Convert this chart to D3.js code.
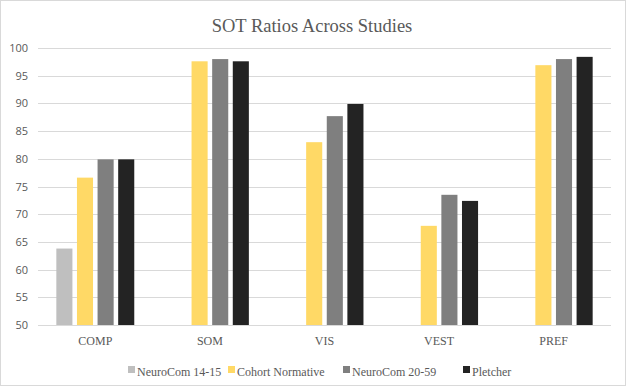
<!DOCTYPE html>
<html>
<head>
<meta charset="utf-8">
<script src="https://cdn.jsdelivr.net/npm/d3@7"></script>
<style>
  body { margin: 0; background: #fff; }
  svg { display: block; }
</style>
</head>
<body>
<div id="chart"></div>
<script>
const categories = ['COMP', 'SOM', 'VIS', 'VEST', 'PREF'];
const seriesNames = ['NeuroCom 14-15', 'Cohort Normative', 'NeuroCom 20-59', 'Pletcher'];
const neuroCom1415 = [63.8, null, null, null, null];
const cohortNormative = [76.6, 97.6, 83.0, 67.9, 96.9];
const neuroCom2059 = [79.9, 98.0, 87.7, 73.5, 98.0];
const pletcher = [79.9, 97.6, 89.9, 72.4, 98.4];
const yTicks = [50, 55, 60, 65, 70, 75, 80, 85, 90, 95, 100];
const colors = ['#bfbfbf', '#ffd966', '#7f7f7f', '#232323'];

const seriesValues = [neuroCom1415, cohortNormative, neuroCom2059, pletcher];

const width = 626, height = 386;
const margin = { top: 48, right: 15, bottom: 61, left: 38 };

const svg = d3.select('#chart').append('svg')
  .attr('width', width)
  .attr('height', height);

// outer frame
svg.append('rect')
  .attr('x', 0.5).attr('y', 0.5)
  .attr('width', width - 1).attr('height', height - 1)
  .attr('fill', '#fff')
  .attr('stroke', '#d9d9d9');

svg.append('text')
  .attr('x', 312).attr('y', 32)
  .attr('text-anchor', 'middle')
  .attr('font-family', 'Liberation Serif, Times New Roman, serif')
  .attr('font-size', '18.5px')
  .attr('fill', '#595959')
  .text('SOT Ratios Across Studies');

const x0 = d3.scaleBand()
  .domain(categories)
  .range([margin.left, width - margin.right])
  .paddingInner(0.32)
  .paddingOuter(0.16);

const x1 = d3.scaleBand()
  .domain(seriesNames)
  .range([0, x0.bandwidth()])
  .paddingInner(0.22);

const y = d3.scaleLinear()
  .domain([50, 100])
  .range([height - margin.bottom, margin.top]);

// gridlines
svg.append('g')
  .selectAll('line')
  .data(yTicks)
  .join('line')
  .attr('x1', margin.left)
  .attr('x2', width - margin.right)
  .attr('y1', d => Math.round(y(d)) + 0.5)
  .attr('y2', d => Math.round(y(d)) + 0.5)
  .attr('stroke', '#d9d9d9')
  .attr('stroke-width', 1);

// y labels
const yAxis = svg.append('g')
  .attr('transform', `translate(${margin.left - 6},0)`)
  .call(d3.axisLeft(y).tickValues(yTicks).tickSize(0).tickPadding(4));
yAxis.select('.domain').remove();
yAxis.selectAll('text')
  .attr('font-family', 'Open Sans, Liberation Sans, sans-serif')
  .attr('font-size', '11px')
  .attr('fill', '#595959');

// bars
const groups = svg.append('g')
  .selectAll('g')
  .data(categories)
  .join('g')
  .attr('transform', d => `translate(${x0(d)},0)`);

groups.selectAll('rect')
  .data((d, i) => seriesNames.map((s, j) => ({ s, j, v: seriesValues[j][i] })).filter(e => e.v != null))
  .join('rect')
  .attr('x', d => x1(d.s))
  .attr('width', x1.bandwidth())
  .attr('y', d => y(d.v))
  .attr('height', d => y(50) - y(d.v))
  .attr('fill', d => colors[d.j]);

// x axis
const xAxis = svg.append('g')
  .attr('transform', `translate(0,${Math.round(y(50)) + 0.5})`)
  .call(d3.axisBottom(x0).tickSize(0).tickPadding(11).tickSizeOuter(0));
xAxis.select('.domain')
  .attr('stroke', '#d9d9d9')
  .attr('d', `M${margin.left},0H${width - margin.right}`);
xAxis.selectAll('text')
  .attr('font-family', 'Liberation Serif, Times New Roman, serif')
  .attr('font-size', '12px')
  .attr('fill', '#595959');

// legend
const legendX = [128, 228, 343, 463];
const legend = svg.append('g')
  .selectAll('g')
  .data(seriesNames)
  .join('g')
  .attr('transform', (d, i) => `translate(${legendX[i]},372)`);

legend.append('rect')
  .attr('x', 0).attr('y', -6)
  .attr('width', 7).attr('height', 7)
  .attr('fill', (d, i) => colors[i]);

legend.append('text')
  .attr('x', 5 + 4)
  .attr('y', 4)
  .attr('font-family', 'Liberation Serif, Times New Roman, serif')
  .attr('font-size', '12px')
  .attr('fill', '#595959')
  .text(d => d);
</script>
</body>
</html>
